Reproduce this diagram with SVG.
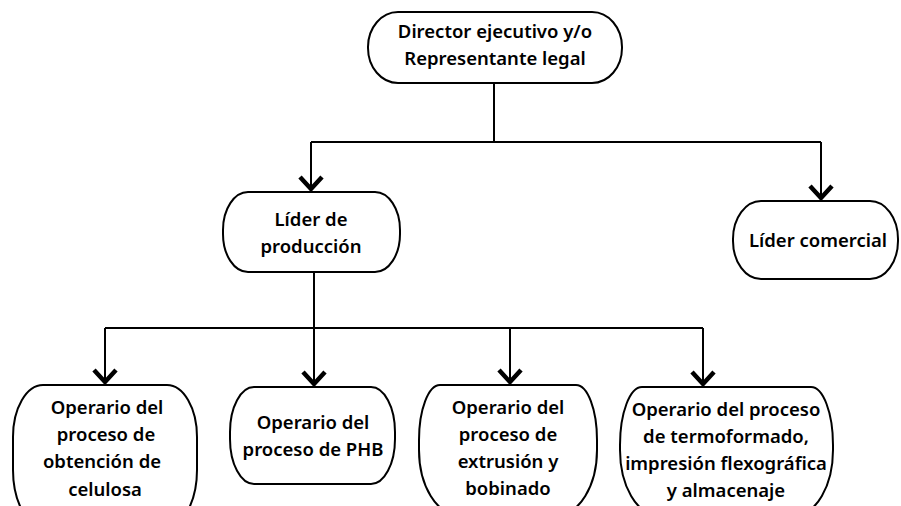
<svg xmlns="http://www.w3.org/2000/svg" width="901" height="506" viewBox="0 0 901 506">
<defs>
<style>
.n{fill:#fff;stroke:#000;stroke-width:2}
.t{font-family:"Noto Sans","Open Sans",sans-serif;font-weight:600;font-size:18.5px;fill:#000;text-anchor:middle}
.c{fill:none;stroke:#000;stroke-width:2}
</style>
<marker id="ah" markerUnits="userSpaceOnUse" viewBox="-16 -14 20 28" refX="3" refY="0" markerWidth="20" markerHeight="28" orient="auto" overflow="visible">
<path d="M-12,-11 L0,0 L-12,11" fill="none" stroke="#000" stroke-width="4.5"/>
</marker>
</defs>
<rect width="901" height="506" fill="#fff"/>
<g id="connectors">
<path class="c" d="M494,83 V142"/>
<path class="c" d="M311,142 H821"/>
<path class="c" d="M311,142 V192" marker-end="url(#ah)"/>
<path class="c" d="M821,142 V201" marker-end="url(#ah)"/>
<path class="c" d="M314,272 V387" marker-end="url(#ah)"/>
<path class="c" d="M105,328 H703"/>
<path class="c" d="M105,328 V385" marker-end="url(#ah)"/>
<path class="c" d="M510,328 V385" marker-end="url(#ah)"/>
<path class="c" d="M703,328 V387" marker-end="url(#ah)"/>
</g>
<g id="director">
<rect class="n" x="368" y="12" width="254" height="71" rx="30" ry="35"/>
<text class="t" x="495" y="38">Director ejecutivo y/o</text>
<text class="t" x="495" y="65">Representante legal</text>
</g>
<g id="lider-produccion">
<rect class="n" x="223" y="192" width="177" height="80" rx="25" ry="38"/>
<text class="t" x="311" y="226">Líder de</text>
<text class="t" x="311" y="253">producción</text>
</g>
<g id="lider-comercial">
<rect class="n" x="733" y="201" width="165" height="78" rx="28" ry="38"/>
<text class="t" x="818" y="247">Líder comercial</text>
</g>
<g id="operario-celulosa">
<path class="n" d="M43,385 H167 A30,52 0 0 1 197,437 V470 A35,60 0 0 1 162,530 H48 A35,60 0 0 1 13,470 V437 A30,52 0 0 1 43,385 Z"/>
<text class="t" x="107" y="414">Operario del</text>
<text class="t" x="106" y="441">proceso de</text>
<text class="t" x="102" y="468">obtención de</text>
<text class="t" x="105" y="496">celulosa</text>
</g>
<g id="operario-phb">
<rect class="n" x="230" y="387" width="165" height="97" rx="24" ry="45"/>
<text class="t" x="313" y="429">Operario del</text>
<text class="t" x="313" y="456">proceso de PHB</text>
</g>
<g id="operario-extrusion">
<path class="n" d="M440,385 H576 A21,55 0 0 1 597,440 V450 A40,65 0 0 1 557,515 H459 A40,65 0 0 1 419,450 V440 A21,55 0 0 1 440,385 Z"/>
<text class="t" x="508" y="414">Operario del</text>
<text class="t" x="508" y="441">proceso de</text>
<text class="t" x="508" y="468">extrusión y</text>
<text class="t" x="508" y="495">bobinado</text>
</g>
<g id="operario-termoformado">
<path class="n" d="M642,387 H811 A22,58 0 0 1 833,445 V450 A38,65 0 0 1 795,515 H658 A38,65 0 0 1 620,450 V445 A22,58 0 0 1 642,387 Z"/>
<text class="t" x="726" y="416">Operario del proceso</text>
<text class="t" x="726" y="443">de termoformado,</text>
<text class="t" x="726" y="470">impresión flexográfica</text>
<text class="t" x="726" y="497">y almacenaje</text>
</g>
</svg>
